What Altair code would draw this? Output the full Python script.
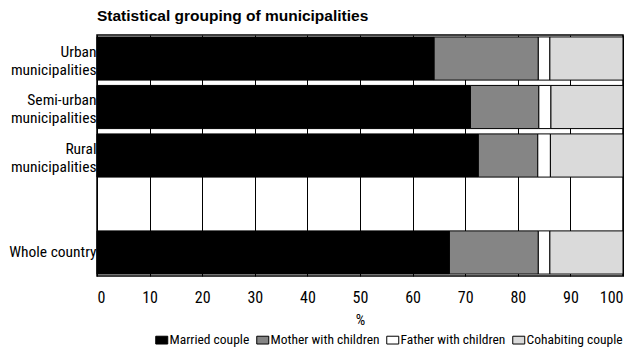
import altair as alt
import pandas as pd

categories = ["Urban municipalities", "Semi-urban municipalities", "Rural municipalities", " ", "Whole country"]
bar_categories = ["Urban municipalities", "Semi-urban municipalities", "Rural municipalities", "Whole country"]
types = ["Married couple", "Mother with children", "Father with children", "Cohabiting couple"]
married = [64.1, 71.0, 72.5, 67.0]
mother = [19.8, 13.0, 11.3, 16.9]
father = [2.2, 2.3, 2.4, 2.2]
cohabiting = [13.9, 13.7, 13.8, 13.9]
colors = ["#000000", "#858585", "#ffffff", "#dadada"]
x_ticks = [0, 10, 20, 30, 40, 50, 60, 70, 80, 90, 100]

rows = []
for i, c in enumerate(bar_categories):
    for j, (t, vals) in enumerate(zip(types, [married, mother, father, cohabiting])):
        rows.append({"group": c, "type": t, "value": vals[i], "order": j})
df = pd.DataFrame(rows)

FONT = "Liberation Sans Narrow, Roboto Condensed, DejaVu Sans Condensed, sans-serif"
TWO_LINE = "indexof(datum.label, 'municipalities') > 0"

chart = alt.Chart(df).mark_bar(stroke="black", strokeWidth=1).encode(
    x=alt.X("value:Q", stack="zero",
            scale=alt.Scale(domain=[0, 100], nice=False),
            axis=alt.Axis(values=x_ticks, title="%", grid=True, gridColor="black",
                          gridOpacity=1, gridWidth=1, ticks=False, domain=False,
                          labelPadding=13, titlePadding=7, labelFontSize=16,
                          titleFontSize=15, titleFontWeight="normal", labelColor="black",
                          titleColor="black", labelFont=FONT, titleFont=FONT)),
    y=alt.Y("group:N", sort=categories,
            scale=alt.Scale(domain=categories, paddingInner=0.11, paddingOuter=0.04),
            axis=alt.Axis(title=None, ticks=False, domain=False, labelFontSize=15.5,
                          labelColor="black", labelFont=FONT, labelPadding=1,
                          labelLineHeight=18,
                          labelOffset={"condition": {"test": TWO_LINE, "value": -7}, "value": 0},
                          labelExpr=TWO_LINE + " ? [replace(datum.label, ' municipalities', ''), 'municipalities'] : datum.label")),
    color=alt.Color("type:N", sort=types,
                    scale=alt.Scale(domain=types, range=colors),
                    legend=alt.Legend(title=None, orient="none", direction="horizontal",
                                      legendX=58, legendY=298,
                                      symbolType="M-1,-0.65H1V0.65H-1Z", symbolStrokeColor="black",
                                      symbolStrokeWidth=1, symbolSize=144,
                                      labelFontSize=13.5, labelFont=FONT, labelColor="black",
                                      labelOffset=1, columnPadding=4, symbolOffset=0)),
    order=alt.Order("order:Q"),
).properties(
    width=526, height=241,
    padding={"left": 0, "right": 0, "top": 0, "bottom": 0},
    title=alt.TitleParams("Statistical grouping of municipalities", anchor="start", frame="group",
                          fontSize=15.5, fontWeight="bold", font="Liberation Sans, Arial, sans-serif",
                          color="black", offset=11),
).configure_view(stroke="black", strokeWidth=1.5)

chart.save("out.html", embed_options={"renderer": "svg", "actions": False})
